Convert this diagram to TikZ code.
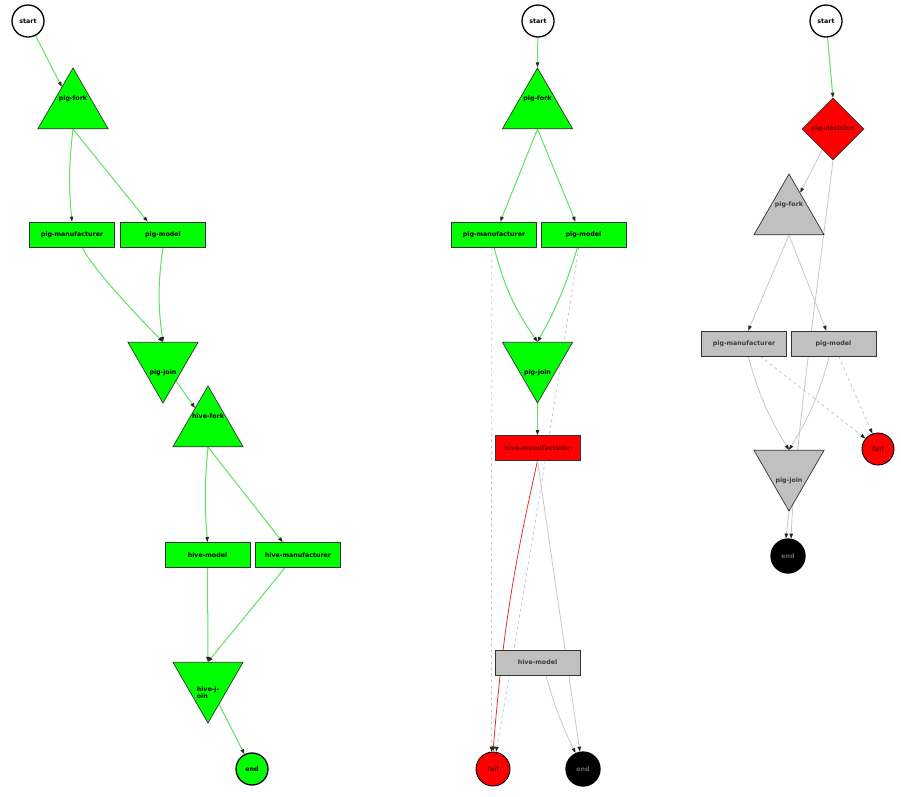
\documentclass[tikz,border=0pt]{standalone}
\usepackage{fontspec}
\newfontfamily\gvfont{DejaVu Sans}
\usetikzlibrary{arrows.meta,shapes.geometric,backgrounds}

\definecolor{okgreen}{RGB}{0,255,0}
\definecolor{edgegreen}{RGB}{95,225,95}
\definecolor{errred}{RGB}{255,0,0}
\definecolor{edgered}{RGB}{235,45,45}
\definecolor{skipgray}{RGB}{192,192,192}
\definecolor{edgegray}{RGB}{200,200,200}
\definecolor{darkred}{RGB}{110,0,0}
\definecolor{txtgray}{RGB}{60,60,60}

\begin{document}
\begin{tikzpicture}[x=1pt, y=-1pt,
  font=\gvfont\bfseries\fontsize{6.3}{7}\selectfont,
  every label/.style={inner sep=0pt},
  action/.style={rectangle, draw=black!80, line width=0.7pt, minimum width=85pt, minimum height=25pt, inner sep=0pt},
  gate/.style={regular polygon, regular polygon sides=3, minimum size=81pt, inner sep=0pt, draw=black!80, line width=0.7pt},
  forkgate/.style 2 args={gate, label={[yshift=10pt, text=#2]center:#1}},
  joingate/.style 2 args={gate, shape border rotate=180, label={[yshift=-10pt, text=#2, align=left]center:#1}},
  ctrl/.style={circle, draw=black, line width=1.3pt, minimum size=32pt, inner sep=0pt, fill=white},
  done/.style={fill=okgreen, text=black},
  failed/.style={fill=errred, text=darkred},
  skipped/.style={fill=skipgray, text=txtgray},
  finish/.style={fill=black, text=black!60},
  conn/.style={line width=0.8pt, -{Triangle[length=5pt, width=3.5pt, color=black!85]}},
  okedge/.style={conn, edgegreen, line width=1pt},
  erredge/.style={conn, edgered},
  skipedge/.style={conn, edgegray},
  failedge/.style={conn, edgegray, dashed}]
  \useasboundingbox (0,0) rectangle (901,796);

  % left run: all actions ok
  \node[ctrl] (start1) at (28,21) {start};
  \node[forkgate={pig-fork}{black}, done] (pigfork1) at (73,108.5) {};
  \node[action, done] (pigman1) at (72,234.5) {pig-manufacturer};
  \node[action, done] (pigmod1) at (163,234.5) {pig-model};
  \node[joingate={pig-join}{black}, done] (pigjoin1) at (163,362.5) {};
  \node[forkgate={hive-fork}{black}, done] (hivefork1) at (208,426.5) {};
  \node[action, done] (hivemod1) at (207.5,555) {hive-model};
  \node[action, done] (hiveman1) at (298,555) {hive-manufacturer};
  \node[joingate={hive-j-\\oin}{black}, done] (hivejoin1) at (208,682.5) {};
  \node[ctrl, done] (end1) at (252,769) {end};

  % middle run: hive-manufacturer fails
  \node[ctrl] (start2) at (538,21) {start};
  \node[forkgate={pig-fork}{black}, done] (pigfork2) at (537.5,108.5) {};
  \node[action, done] (pigman2) at (494,234.5) {pig-manufacturer};
  \node[action, done] (pigmod2) at (583.5,234.5) {pig-model};
  \node[joingate={pig-join}{black}, done] (pigjoin2) at (537.5,362.5) {};
  \node[action, failed] (hiveman2) at (537.5,448) {hive-manufacturer};
  \node[action, skipped] (hivemod2) at (537.5,662.5) {hive-model};
  \node[ctrl, failed, line width=0.9pt, minimum size=34pt] (fail2) at (493,769) {fail};
  \node[ctrl, finish, minimum size=34pt] (end2) at (583,769) {end};

  % right run: decision fails
  \node[ctrl] (start3) at (826,21) {start};
  \node[diamond, draw=black!80, line width=0.7pt, minimum width=62pt, minimum height=62pt, inner sep=0pt, failed] (decide3) at (833,129) {pig-decision};
  \node[forkgate={pig-fork}{txtgray}, skipped] (pigfork3) at (789,214.5) {};
  \node[action, skipped] (pigman3) at (744,343.5) {pig-manufacturer};
  \node[action, skipped] (pigmod3) at (833.5,343.5) {pig-model};
  \node[joingate={pig-join}{txtgray}, skipped] (pigjoin3) at (789,470.5) {};
  \node[ctrl, failed, line width=0.9pt] (fail3) at (878,449) {fail};
  \node[ctrl, finish, minimum size=34pt] (end3) at (788,556) {end};

  \begin{scope}[on background layer]
    % left
    \draw[okedge] (start1) -- (pigfork1);
    \draw[okedge] (pigfork1.south) to[bend right=6] (pigman1.north);
    \draw[okedge] (pigfork1.south) -- (pigmod1.140);
    \draw[okedge] (pigman1.-51) .. controls +(8,20) and +(-15,-15) .. (pigjoin1.north);
    \draw[okedge] (pigmod1.south) to[bend right=8] (pigjoin1.north);
    \draw[okedge] (pigjoin1) -- (hivefork1);
    \draw[okedge] (hivefork1.south) to[bend right=5] (hivemod1.north);
    \draw[okedge] (hivefork1.south) -- (hiveman1.140);
    \draw[okedge] (hivemod1.south) -- (hivejoin1.north);
    \draw[okedge] (hiveman1.-136) .. controls +(-20,25) and +(8,-10) .. (hivejoin1.north);
    \draw[okedge] (hivejoin1) -- (end1);
    % middle
    \draw[okedge] (start2) -- (pigfork2.north);
    \draw[okedge] (pigfork2.south) -- (pigman2.64);
    \draw[okedge] (pigfork2.south) -- (pigmod2.122);
    \draw[okedge] (pigman2.south) to[bend right=10] (pigjoin2.north);
    \draw[okedge] (pigmod2.-115) to[bend left=6] (pigjoin2.north);
    \draw[okedge] (pigjoin2.south) -- (hiveman2.north);
    \draw[erredge] (hiveman2.south) to[bend right=4] (fail2.north);
    \draw[skipedge] (hiveman2.south) -- (end2.100);
    \draw[skipedge] (hivemod2.-57) to[bend right=5] (end2.115);
    \draw[failedge] (pigman2.-100) -- (fail2.95);
    \draw[failedge] (pigmod2.-110) .. controls (555,400) and (530,560) .. (fail2.80);
    % right
    \draw[okedge] (start3) -- (decide3.north);
    \draw[skipedge] (decide3) -- (pigfork3);
    \draw[skipedge] (decide3.south) .. controls (820,270) and (795,440) .. (end3.80);
    \draw[skipedge] (pigfork3.south) -- (pigman3.72);
    \draw[skipedge] (pigfork3.south) -- (pigmod3.119);
    \draw[skipedge] (pigman3.-72) to[bend right=8] (pigjoin3.north);
    \draw[skipedge] (pigmod3.-108) to[bend left=8] (pigjoin3.north);
    \draw[failedge] (pigman3.-38) -- (fail3.140);
    \draw[failedge] (pigmod3.-68) -- (fail3.110);
    \draw[skipedge] (pigjoin3.south) -- (end3.97);
  \end{scope}
\end{tikzpicture}
\end{document}
